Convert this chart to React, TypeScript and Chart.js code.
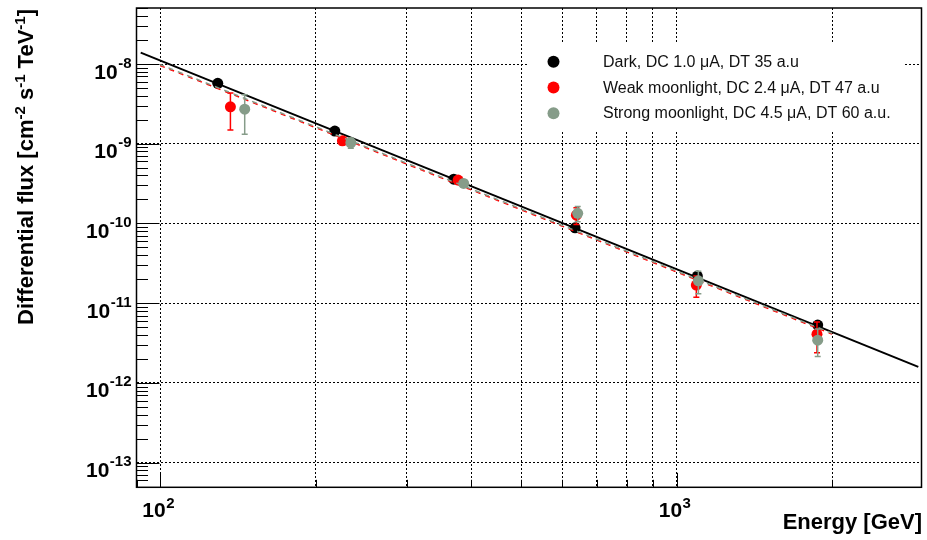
import React, { useEffect, useRef } from 'react';
import { Chart, registerables } from 'chart.js';

Chart.register(...registerables);

// ---- axes ----
const xMin = 90;
const xMax = 2980;
const yMin = 4.9e-14;
const yMax = 5.05e-8;
const xGridValues = [100, 200, 300, 400, 500, 600, 700, 800, 900, 1000, 2000];
const yGridValues = [1e-13, 1e-12, 1e-11, 1e-10, 1e-9, 1e-8];
const xTickExponents = ['2', '3'];
const yTickExponents = ['-8', '-9', '-10', '-11', '-12', '-13'];
const xTitle = 'Energy [GeV]';

// ---- legend labels ----
const seriesLabels = [
  'Dark, DC 1.0 \u03bcA, DT 35 a.u',
  'Weak moonlight, DC 2.4 \u03bcA, DT 47 a.u',
  'Strong moonlight, DC 4.5 \u03bcA, DT 60 a.u.',
];
const seriesColors = ['#000000', '#ff0000', '#869c89'];

// ---- data: Dark ----
const darkE = [129.3, 217.9, 370.3, 636, 1097, 1876];
const darkF = [5.73e-9, 1.443e-9, 3.6e-10, 8.83e-11, 2.19e-11, 5.31e-12];
const darkErr = [0.35e-9, 0.09e-9, 0.22e-10, 0.55e-11, 0.14e-11, 0.35e-12];

// ---- data: Weak moonlight ----
const weakE = [136.8, 225.4, 377.5, 639.7, 1092, 1870];
const weakF = [2.91e-9, 1.09e-9, 3.5e-10, 1.27e-10, 1.69e-11, 4.09e-12];
const weakErr = [1.42e-9, 0.12e-9, 0.3e-10, 0.3e-10, 0.5e-11, 1.7e-12];

// ---- data: Strong moonlight ----
const strongE = [145.8, 234, 387, 643.5, 1102, 1876];
const strongF = [2.72e-9, 1.03e-9, 3.18e-10, 1.34e-10, 1.91e-11, 3.44e-12];
const strongErr = [1.4e-9, 0.15e-9, 0.3e-10, 0.29e-10, 0.6e-11, 1.3e-12];

// ---- power-law fit lines (end points) ----
const fitDarkE = [91.7, 2938];
const fitDarkF = [1.39e-8, 1.59e-12];
const fitWeakE = [100, 2000];
const fitWeakF = [9.6e-9, 4.1e-12];
const fitStrongE = [100, 2000];
const fitStrongF = [9.85e-9, 4.2e-12];

const FONT = '"Liberation Sans", Arial, Helvetica, sans-serif';
const BASE_FONT = `bold 21px ${FONT}`;
const EXP_FONT = `bold 15px ${FONT}`;
const TITLE_FONT = `bold 22px ${FONT}`;
const TITLE_EXP_FONT = `bold 15px ${FONT}`;

const pts = (xs: number[], ys: number[]) => xs.map((x, i) => ({ x, y: ys[i] }));

function drawPower(
  ctx: CanvasRenderingContext2D,
  exp: string,
  x: number,
  baseY: number,
  expDy: number,
  align: 'right' | 'center',
  shift = 0
) {
  ctx.font = BASE_FONT;
  const wb = ctx.measureText('10').width;
  ctx.font = EXP_FONT;
  const we = ctx.measureText(exp).width;
  const total = wb + we;
  const start = align === 'right' ? x - total : x - total / 2 + shift;
  ctx.textAlign = 'left';
  ctx.textBaseline = 'alphabetic';
  ctx.font = BASE_FONT;
  ctx.fillText('10', start, baseY);
  ctx.font = EXP_FONT;
  ctx.fillText(exp, start + wb + 0.5, baseY - expDy);
}

const rootPlugin = {
  id: 'rootDecor',
  beforeDatasetsDraw(chart: any) {
    // legend box (white fill, no border) covers the grid
    const ctx: CanvasRenderingContext2D = chart.ctx;
    ctx.save();
    ctx.fillStyle = '#ffffff';
    ctx.fillRect(527, 43, 378, 87);
    ctx.restore();
  },
  beforeDatasetDraw(chart: any, args: any) {
    const ds = chart.data.datasets[args.index];
    if (!ds.errors) return;
    const ctx: CanvasRenderingContext2D = chart.ctx;
    const xs = chart.scales.x;
    const ys = chart.scales.y;
    const area = chart.chartArea;
    ctx.save();
    ctx.beginPath();
    ctx.rect(area.left, area.top, area.right - area.left, area.bottom - area.top);
    ctx.clip();
    ctx.strokeStyle = ds.backgroundColor;
    ctx.lineWidth = 1.5;
    ds.data.forEach((p: any, i: number) => {
      const e = ds.errors[i];
      const px = xs.getPixelForValue(p.x);
      const yTop = ys.getPixelForValue(p.y + e);
      const yBot = ys.getPixelForValue(Math.max(p.y - e, yMin * 0.5));
      ctx.beginPath();
      ctx.moveTo(px, yTop);
      ctx.lineTo(px, yBot);
      ctx.moveTo(px - 3, yTop);
      ctx.lineTo(px + 3, yTop);
      ctx.moveTo(px - 3, yBot);
      ctx.lineTo(px + 3, yBot);
      ctx.stroke();
    });
    ctx.restore();
  },
  afterDraw(chart: any) {
    const ctx: CanvasRenderingContext2D = chart.ctx;
    const xs = chart.scales.x;
    const ys = chart.scales.y;
    const { left, right, top, bottom } = chart.chartArea;
    ctx.save();
    ctx.strokeStyle = '#000';
    ctx.fillStyle = '#000';

    // ticks on y axis
    ctx.lineWidth = 1;
    ctx.beginPath();
    for (let d = -14; d <= -8; d++) {
      for (let m = 1; m <= 9; m++) {
        const v = m * Math.pow(10, d);
        if (v < yMin || v > yMax) continue;
        const py = Math.round(ys.getPixelForValue(v)) + 0.5;
        const len = m === 1 ? 23 : 11.5;
        ctx.moveTo(left, py);
        ctx.lineTo(left + len, py);
      }
    }
    // ticks on x axis
    for (let d = 1; d <= 3; d++) {
      for (let m = 1; m <= 9; m++) {
        const v = m * Math.pow(10, d);
        if (v < xMin || v > xMax) continue;
        const px = Math.round(xs.getPixelForValue(v)) + 0.5;
        const len = m === 1 ? 14.5 : 7.5;
        ctx.moveTo(px, bottom);
        ctx.lineTo(px, bottom - len);
      }
    }
    ctx.stroke();

    // frame
    ctx.lineWidth = 1.5;
    ctx.strokeRect(left, top, right - left, bottom - top);

    // y tick labels
    yGridValues
      .slice()
      .reverse()
      .forEach((v, i) => {
        const py = ys.getPixelForValue(v);
        drawPower(ctx, yTickExponents[i], 131, py + 14.5, 11, 'right');
      });
    // x tick labels
    [100, 1000].forEach((v, i) => {
      const px = xs.getPixelForValue(v);
      drawPower(ctx, xTickExponents[i], px, bottom + 30, 9, 'center', -2);
    });

    // x title
    ctx.font = TITLE_FONT;
    ctx.textAlign = 'right';
    ctx.textBaseline = 'alphabetic';
    ctx.fillText(xTitle, 922, 529);

    // y title (rotated, with superscripts)
    const segs: [string, boolean][] = [
      ['Differential flux [cm', false],
      ['-2', true],
      [' s', false],
      ['-1', true],
      [' TeV', false],
      ['-1', true],
      [']', false],
    ];
    let total = 0;
    const widths = segs.map(([t, sup]) => {
      ctx.font = sup ? TITLE_EXP_FONT : TITLE_FONT;
      const w = ctx.measureText(t).width;
      total += w;
      return w;
    });
    ctx.save();
    ctx.translate(33, top + 1);
    ctx.rotate(-Math.PI / 2);
    ctx.textAlign = 'left';
    let cx = -total;
    segs.forEach(([t, sup], i) => {
      ctx.font = sup ? TITLE_EXP_FONT : TITLE_FONT;
      ctx.fillText(t, cx, sup ? -8.5 : 0);
      cx += widths[i];
    });
    ctx.restore();

    // legend
    ctx.font = `16px ${FONT}`;
    ctx.textAlign = 'left';
    ctx.textBaseline = 'alphabetic';
    seriesLabels.forEach((label, i) => {
      const rowY = 61.7 + i * 25.8;
      ctx.fillStyle = seriesColors[i];
      ctx.beginPath();
      ctx.arc(553.5, rowY, 6, 0, Math.PI * 2);
      ctx.fill();
      ctx.fillStyle = '#111';
      ctx.fillText(label, 603, rowY + 5);
    });

    ctx.restore();
  },
};

export default function App() {
  const canvasRef = useRef<HTMLCanvasElement | null>(null);

  useEffect(() => {
    if (!canvasRef.current) return;
    const chart = new Chart(canvasRef.current, {
      type: 'scatter',
      data: {
        datasets: [
          {
            label: seriesLabels[0],
            data: pts(darkE, darkF),
            errors: darkErr,
            backgroundColor: seriesColors[0],
            borderColor: seriesColors[0],
            pointRadius: 5.5,
            pointBorderWidth: 0,
            showLine: false,
            order: 6,
          } as any,
          {
            label: 'Dark fit',
            data: pts(fitDarkE, fitDarkF),
            borderColor: '#000000',
            borderWidth: 2,
            pointRadius: 0,
            showLine: true,
            order: 5,
          },
          {
            label: seriesLabels[1],
            data: pts(weakE, weakF),
            errors: weakErr,
            backgroundColor: seriesColors[1],
            borderColor: seriesColors[1],
            pointRadius: 5.5,
            pointBorderWidth: 0,
            showLine: false,
            order: 4,
          } as any,
          {
            label: 'Weak fit',
            data: pts(fitWeakE, fitWeakF),
            borderColor: seriesColors[1],
            borderWidth: 1.5,
            borderDash: [5, 5],
            pointRadius: 0,
            showLine: true,
            order: 3,
          },
          {
            label: seriesLabels[2],
            data: pts(strongE, strongF),
            errors: strongErr,
            backgroundColor: seriesColors[2],
            borderColor: seriesColors[2],
            pointRadius: 5.5,
            pointBorderWidth: 0,
            showLine: false,
            order: 2,
          } as any,
          {
            label: 'Strong fit',
            data: pts(fitStrongE, fitStrongF),
            borderColor: seriesColors[2],
            borderWidth: 1.5,
            borderDash: [5, 5],
            borderDashOffset: 1,
            pointRadius: 0,
            showLine: true,
            order: 1,
          },
        ],
      },
      options: {
        animation: false,
        responsive: false,
        devicePixelRatio: 1,
        events: [],
        layout: { padding: { left: 136.5, right: 4, top: 8, bottom: 52.7 } },
        plugins: {
          legend: { display: false },
          tooltip: { enabled: false },
        },
        scales: {
          x: {
            type: 'logarithmic',
            position: 'bottom',
            min: xMin,
            max: xMax,
            ticks: { display: false },
            grid: { color: '#000', lineWidth: 1, drawTicks: false },
            border: { display: false, dash: [2, 2] },
            afterBuildTicks: (scale: any) => {
              scale.ticks = xGridValues.map((v) => ({ value: v }));
            },
            afterFit: (scale: any) => {
              scale.height = 0;
            },
          },
          y: {
            type: 'logarithmic',
            position: 'left',
            min: yMin,
            max: yMax,
            ticks: { display: false },
            grid: { color: '#000', lineWidth: 1, drawTicks: false },
            border: { display: false, dash: [2, 2] },
            afterBuildTicks: (scale: any) => {
              scale.ticks = yGridValues.map((v) => ({ value: v }));
            },
            afterFit: (scale: any) => {
              scale.width = 0;
            },
          },
        },
      } as any,
      plugins: [rootPlugin],
    });
    return () => chart.destroy();
  }, []);

  return (
    <div style={{ position: 'fixed', left: 0, top: 0, width: 927, height: 540, background: '#fff' }}>
      <canvas ref={canvasRef} width={927} height={540} style={{ display: 'block' }} />
    </div>
  );
}
